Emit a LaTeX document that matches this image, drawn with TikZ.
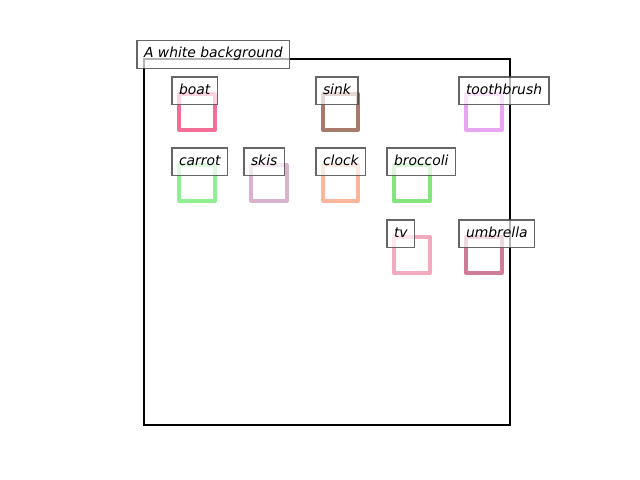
\documentclass[tikz,border=0pt]{standalone}
\usepackage{fontspec}
\setmainfont{DejaVu Sans}
\usepackage{xcolor}
\definecolor{boatc}{RGB}{242,110,150}
\definecolor{sinkc}{RGB}{168,122,108}
\definecolor{toothc}{RGB}{232,165,242}
\definecolor{carrotc}{RGB}{145,238,145}
\definecolor{skisc}{RGB}{216,178,206}
\definecolor{clockc}{RGB}{250,182,155}
\definecolor{broccc}{RGB}{135,228,125}
\definecolor{tvc}{RGB}{242,170,190}
\definecolor{umbrc}{RGB}{205,125,150}

\begin{document}
\begin{tikzpicture}[x=0.72bp,y=-0.72bp,
lbl/.style={draw=black!75,draw opacity=0.8,fill=white,fill opacity=0.7,text opacity=1,line width=0.9bp,inner sep=5bp,text height=7.6bp,text depth=2.4bp,anchor=text,font=\fontsize{10bp}{12bp}\selectfont\itshape},
obj/.style={line width=2.4bp,line join=round}]
\useasboundingbox(0,0)rectangle(640,480);
\draw[line width=1.7bp](144,59)rectangle(510,425);
\draw[obj,draw=boatc](179,94)rectangle(215,130);
\draw[obj,draw=sinkc](323,94)rectangle(358,130);
\draw[obj,draw=toothc](466,94)rectangle(502,130);
\draw[obj,draw=carrotc](179,165)rectangle(215,201);
\draw[obj,draw=skisc](251,165)rectangle(287,201);
\draw[obj,draw=clockc](323,165)rectangle(358,201);
\draw[obj,draw=broccc](394,165)rectangle(430,201);
\draw[obj,draw=tvc](394,237)rectangle(430,273);
\draw[obj,draw=umbrc](466,237)rectangle(502,273);
\node[lbl](title)at(144,58){A white background};
\node[lbl](boat)at(179,94.5){boat};\node[lbl](sink)at(323,94.5){sink};
\node[lbl](toothbrush)at(466,94.5){toothbrush};
\node[lbl](carrot)at(179,165.5){carrot};\node[lbl](skis)at(251,165.5){skis};
\node[lbl](clock)at(323,165.5){clock};\node[lbl](broccoli)at(394,165.5){broccoli};
\node[lbl](tv)at(394,237.5){tv};\node[lbl](umbrella)at(466,237.5){umbrella};
\end{tikzpicture}
\end{document}
